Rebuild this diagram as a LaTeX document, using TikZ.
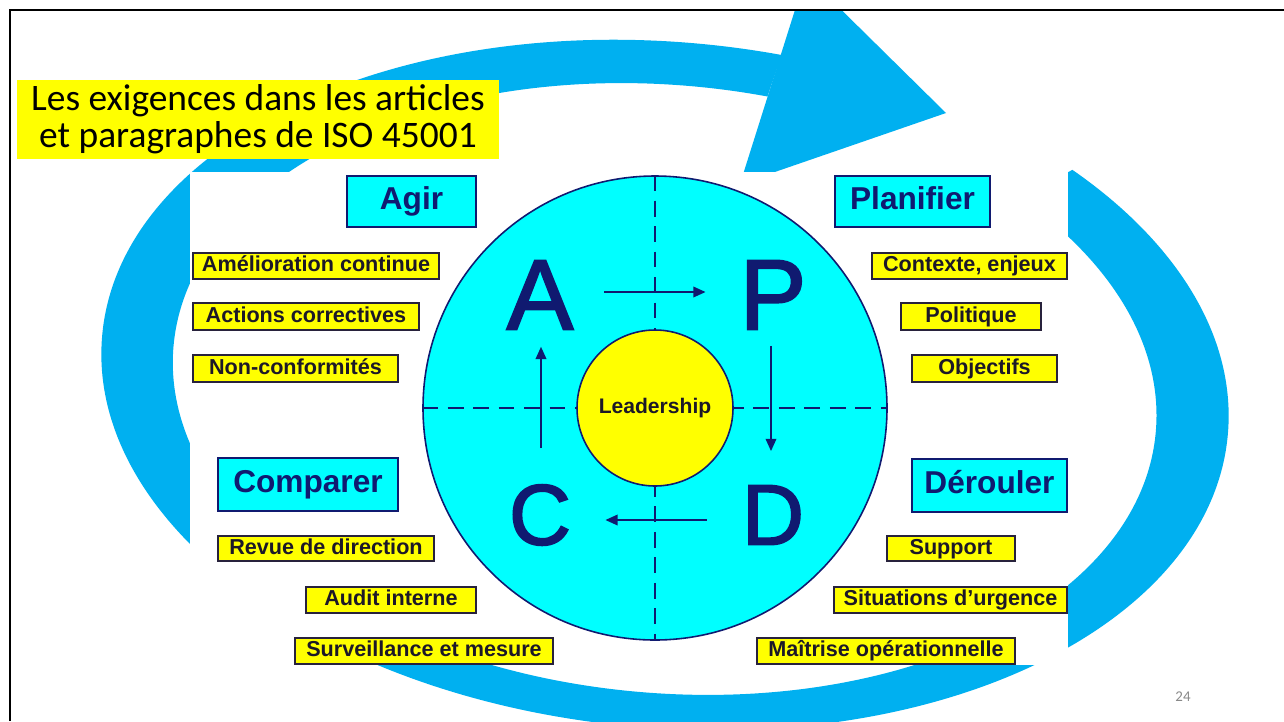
\documentclass[tikz,border=0pt]{standalone}
\usepackage{fontspec}
\setmainfont{Liberation Sans}
\newfontfamily\calib{Carlito}
\newfontfamily\letterfont[FakeBold=2]{Liberation Sans}
\usetikzlibrary{arrows.meta}
\definecolor{ringblue}{RGB}{0,176,240}
\definecolor{cyanf}{RGB}{0,255,255}
\definecolor{navy}{RGB}{16,26,112}
\definecolor{yel}{RGB}{255,255,0}
\definecolor{itemtext}{RGB}{28,24,40}
\definecolor{itemborder}{RGB}{40,34,60}
\definecolor{pggray}{RGB}{137,137,137}
\tikzset{
  wh/.style 2 args={minimum width=#1*0.02cm, minimum height=#2*0.02cm},
  header/.style={draw=navy, line width=1.5pt, fill=cyanf, text=navy, inner sep=0pt,
    font=\fontsize{18}{21}\selectfont\bfseries, text height=13pt, text depth=3.7pt},
  item/.style={draw=itemborder, line width=1.2pt, fill=yel, text=itemtext, inner sep=0pt,
    font=\fontsize{12.3}{14}\selectfont\bfseries, text height=9.2pt, text depth=2.6pt},
  bigletter/.style={text=navy, inner sep=0pt, font=\letterfont\fontsize{56.9}{60}\selectfont},
  smallletter/.style={text=navy, inner sep=0pt, font=\letterfont\fontsize{48.9}{52}\selectfont},
  dashl/.style={draw=navy, line width=1.1pt, dash pattern=on 9pt off 5.5pt},
  arr/.style={draw=navy, line width=1.1pt, -{Triangle[length=7pt, width=6pt]}},
}
\begin{document}
\begin{tikzpicture}[x=0.02cm, y=-0.02cm]
\useasboundingbox (0,0) rectangle (1284,721);
\fill[white] (0,0) rectangle (1284,721);

% big circular arrow
\begin{scope}
  \clip (10,11) rectangle (1284,721);
  \begin{scope}
    \clip (670,385) -- (876,-225) -- (-100,-225) -- (-100,900) -- (1506,900) -- (1506,-62) -- cycle;
    \fill[ringblue, even odd rule, rotate around={-5:(665,385)}]
      (665,385) ellipse [x radius=565, y radius=343]
      (665,389) ellipse [x radius=493, y radius=304];
  \end{scope}
  \fill[ringblue] (806,-25) -- (946,113) -- (740,184) -- cycle;
\end{scope}

% picture area
\fill[white] (190,172) rectangle (1068,665);

% PDCA wheel
\node[circle, draw=navy, line width=0.9pt, fill=cyanf, minimum size=464*0.02cm, inner sep=0pt] (big) at (655,408) {};
\draw[dashl] (big.north) -- (big.south);
\draw[dashl] (big.west) -- (big.east);
\node[circle, draw=navy, line width=0.9pt, fill=yel, minimum size=156*0.02cm, inner sep=0pt,
  font=\fontsize{12}{14}\selectfont\bfseries, text=itemtext] (lead) at (655,408) {Leadership};

\node[bigletter] (A) at (540,295) {A};
\node[bigletter] (P) at (773,295) {P};
\node[smallletter] (C) at (540,515) {C};
\node[smallletter] (D) at (773,515) {D};

\draw[arr] ([shift={(30.6,-3)}]A.east) -- ([shift={(-33.7,-3)}]P.west);
\draw[arr] ([shift={(-2,16)}]P.south) -- ([shift={(-2,-34)}]D.north);
\draw[arr] ([shift={(-35,5)}]D.west) -- ([shift={(34,5)}]C.east);
\draw[arr] ([shift={(1,-36)}]C.north) -- ([shift={(1,17)}]A.south);

% headers
\node[header, wh={129}{51}] (agir) at (411.5,201.5) {Agir};
\node[header, wh={155}{51}] (planifier) at (912.5,201.5) {Planifier};
\node[header, wh={180}{53}] (comparer) at (308,484.5) {Comparer};
\node[header, wh={155}{53}] (derouler) at (989.5,485.5) {Dérouler};

% items
\node[item, wh={246}{26}] (i1) at (316,266) {Amélioration continue};
\node[item, wh={226}{27}] (i2) at (306,316.5) {Actions correctives};
\node[item, wh={205}{27}] (i3) at (295.5,368.5) {Non-conformités};
\node[item, wh={195}{26}] (i4) at (969.5,266) {Contexte, enjeux};
\node[item, wh={140}{27}] (i5) at (971,316.5) {Politique};
\node[item, wh={145}{27}] (i6) at (984.5,368.5) {Objectifs};
\node[item, wh={216}{25}] (i7) at (326,548.5) {Revue de direction};
\node[item, wh={170}{26}] (i8) at (391,600) {Audit interne};
\node[item, wh={258}{26}] (i9) at (424,651) {Surveillance et mesure};
\node[item, wh={128}{25}] (i10) at (951,548.5) {Support};
\node[item, wh={233}{26}] (i11) at (950.5,600) {Situations d’urgence};
\node[item, wh={258}{26}] (i12) at (886,651) {Maîtrise opérationnelle};

% title
\node[fill=yel, wh={482}{79}, inner sep=0pt, align=center,
  font=\calib\fontsize{21.3}{21}\selectfont] (title) at (258,119.5)
  {Les exigences dans les articles\\et paragraphes de ISO 45001};

% slide frame and page number
\draw[black, line width=1.4pt] (10,721) -- (10,10) -- (1284,10);
\node[font=\calib\fontsize{8.5}{10}\selectfont, text=pggray, inner sep=0pt] (pg) at (1183,697) {24};
\end{tikzpicture}
\end{document}
